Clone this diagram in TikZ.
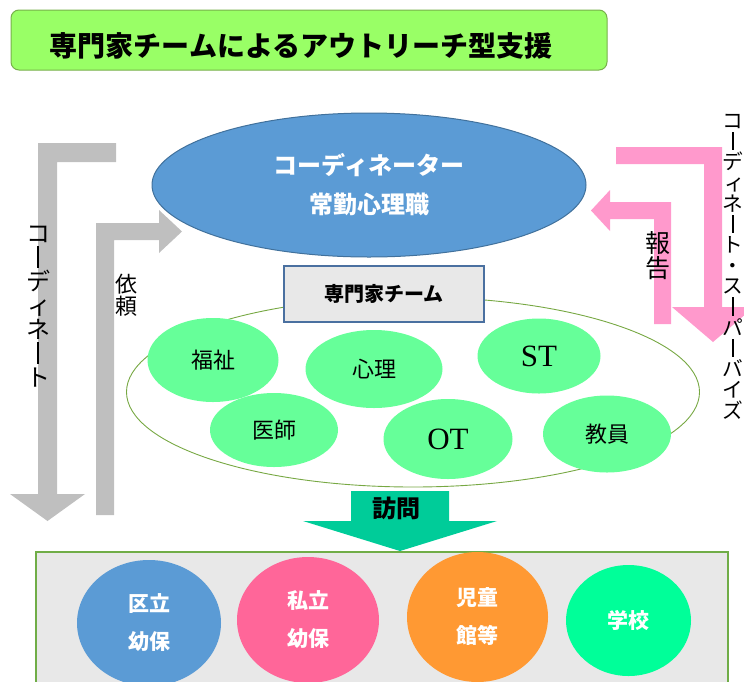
\documentclass[tikz,border=0pt]{standalone}
\usepackage{fontspec}
\setmainfont{Liberation Serif}
\newfontfamily\jp{Noto Sans CJK JP}
\usetikzlibrary{shapes.geometric}
\definecolor{titlefill}{HTML}{99FF66}
\definecolor{titleline}{HTML}{77B04A}
\definecolor{cblue}{HTML}{5B9BD5}
\definecolor{cblueline}{HTML}{41719C}
\definecolor{boxline}{HTML}{4A70A0}
\definecolor{boxfill}{HTML}{E8E8E8}
\definecolor{teamline}{HTML}{77A843}
\definecolor{placeline}{HTML}{70AD47}
\definecolor{cgreen}{HTML}{66FF99}
\definecolor{arrgray}{HTML}{BFBFBF}
\definecolor{arrpink}{HTML}{FF99CC}
\definecolor{arrteal}{HTML}{00CC99}
\definecolor{cpink}{HTML}{FF6699}
\definecolor{corange}{HTML}{FF9933}
\definecolor{cmint}{HTML}{00FF99}
% vertical (tategaki) stacking helpers
\newcommand\vcell[1]{\hbox to 1em{\hss\vrule height 0.9em depth 0.1em width 0pt #1\hss}}
\newcommand\vbarcell{\hbox to 1em{\hss\vrule height 0.9em depth 0.1em width 0pt\vrule width 0.065em height 0.84em depth 0.04em\hss}}
\newcommand\vsmall[1]{\hbox to 1em{\hss\vrule height 0.9em depth 0.1em width 0pt\kern0.14em #1\hss}}
\newcommand\vstack[1]{\vbox{\offinterlineskip #1}}
\tikzset{
  oval/.style={ellipse, inner sep=0pt, outer sep=0pt},
  greenoval/.style={oval, fill=cgreen, font=\jp\fontsize{22pt}{26pt}\selectfont},
  latinoval/.style={oval, fill=cgreen, font=\rmfamily\fontsize{31pt}{34pt}\selectfont},
  placeoval/.style={oval, text=white, align=center, font=\jp\bfseries\fontsize{21pt}{38pt}\selectfont},
  vtext/.style={inner sep=0pt, text=black},
}
\begin{document}
\begin{tikzpicture}[x=1pt,y=-1pt]
\useasboundingbox (0,0) rectangle (744,681);
\clip (0,0) rectangle (744,681);

% title
\node[draw=titleline, line width=1pt, fill=titlefill, rounded corners=8pt,
      minimum width=596pt, minimum height=60pt, inner sep=0pt] (titlebox) at (309,40) {};
\node[font=\jp\bfseries\fontsize{28pt}{32pt}\selectfont, inner sep=0pt] (title) at (301,46)
  {専門家チームによるアウトリーチ型支援};

% gray arrows (left)
\fill[arrgray] (38,143) -- (116,143) -- (116,162) -- (57,162) -- (57,494) -- (85,494)
  -- (47.5,521) -- (10,494) -- (38,494) -- cycle;
\fill[arrgray] (96,515) -- (96,223) -- (159,223) -- (159,210) -- (182,231.5) -- (159,253)
  -- (159,240) -- (114,240) -- (114,515) -- cycle;

% pink arrows (right)
\fill[arrpink] (616,147) -- (722,147) -- (722,307) -- (754,307) -- (713,342) -- (672,307)
  -- (704,307) -- (704,164) -- (616,164) -- cycle;
\fill[arrpink] (671,324) -- (654,324) -- (654,219) -- (610,219) -- (610,231) -- (591,210.5)
  -- (610,190) -- (610,202) -- (671,202) -- cycle;

% coordinator ellipse
\node[oval, fill=cblue, draw=cblueline, line width=1pt, minimum width=434pt, minimum height=144pt,
      text=white, align=center, font=\jp\bfseries\fontsize{24pt}{39pt}\selectfont] (coord) at (369,185)
  {コーディネーター\\常勤心理職};

% team ellipse
\node[oval, draw=teamline, line width=0.9pt, minimum width=573pt, minimum height=190pt] (team) at (413,392) {};

% team box
\node[draw=boxline, line width=1.6pt, fill=boxfill, minimum width=200pt, minimum height=56pt,
      inner sep=0pt, font=\jp\bfseries\fontsize{20pt}{24pt}\selectfont] (teambox) at (384,294) {専門家チーム};

% professionals
\node[greenoval, minimum width=131pt, minimum height=84pt] (fukushi) at (213,360) {福祉};
\node[greenoval, minimum width=137pt, minimum height=78pt] (shinri) at (374,369) {心理};
\node[latinoval, minimum width=123pt, minimum height=75pt] (st) at (539,356) {ST};
\node[greenoval, minimum width=128pt, minimum height=74pt] (ishi) at (274,430) {医師};
\node[latinoval, minimum width=129pt, minimum height=80pt] (ot) at (448,439) {OT};
\node[greenoval, minimum width=128pt, minimum height=77pt] (kyoin) at (607,434) {教員};

% visit arrow
\fill[arrteal] (351,491) -- (449,491) -- (449,521) -- (497,521) -- (400,551) -- (303,521)
  -- (351,521) -- cycle;
\node[font=\jp\bfseries\fontsize{24pt}{28pt}\selectfont, inner sep=0pt] (visit) at (396,508) {訪問};

% places box
\fill[boxfill] (36,552) rectangle (728,700);
\draw[placeline, line width=1.3pt] (36,700) -- (36,552) -- (728,552) -- (728,700);
\node[placeoval, fill=cblue, minimum width=144pt, minimum height=126pt] (kuritsu) at (149,623) {区立\\幼保};
\node[placeoval, fill=cpink, minimum width=142pt, minimum height=126pt] (shiritsu) at (308,620) {私立\\幼保};
\node[placeoval, fill=corange, minimum width=141pt, minimum height=130pt] (jido) at (477.5,617) {児童\\館等};
\node[placeoval, fill=cmint, minimum width=125pt, minimum height=111pt] (gakko) at (628.5,620.5) {学校};

% vertical labels
\node[vtext, font=\jp\fontsize{24pt}{24pt}\selectfont] (lcoord) at (38,305)
  {\vstack{\vcell{コ}\vbarcell\vcell{デ}\vsmall{ィ}\vcell{ネ}\vbarcell\vcell{ト}}};
\node[vtext, font=\jp\fontsize{22pt}{22pt}\selectfont] (irai) at (126,295)
  {\vstack{\vcell{依}\vcell{頼}}};
\node[vtext, font=\jp\fontsize{25pt}{25pt}\selectfont] (hokoku) at (658,255)
  {\vstack{\vcell{報}\vcell{告}}};
\node[vtext, font=\jp\fontsize{20.7pt}{21pt}\selectfont] (rcoord) at (733,265)
  {\vstack{\vcell{コ}\vbarcell\vcell{デ}\vsmall{ィ}\vcell{ネ}\vbarcell\vcell{ト}\vcell{・}\vcell{ス}\vbarcell\vcell{パ}\vbarcell\vcell{バ}\vcell{イ}\vcell{ズ}}};
\end{tikzpicture}
\end{document}
